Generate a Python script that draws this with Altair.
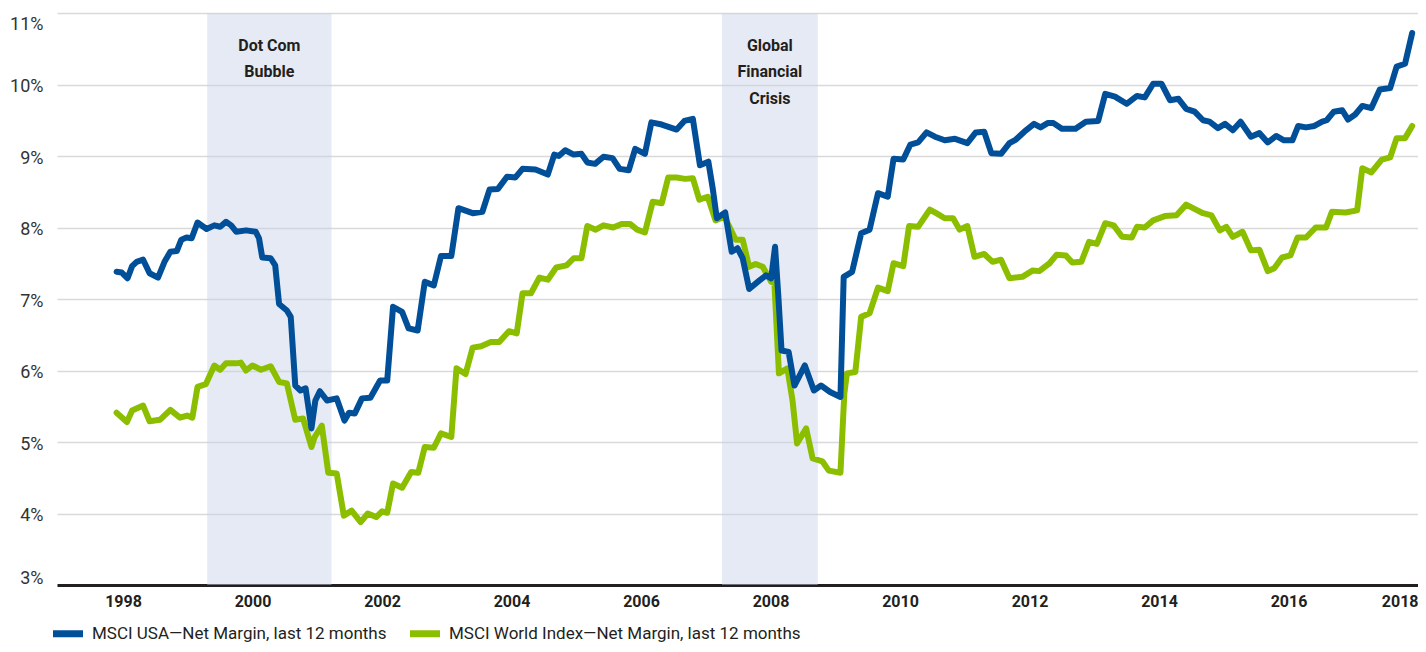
import altair as alt
import pandas as pd

# ---------------- data ----------------
usa_year = [1997.90, 1997.98, 1998.07, 1998.14, 1998.21, 1998.31, 1998.41, 1998.54, 1998.64, 1998.73,
            1998.83, 1998.90, 1998.98, 1999.06, 1999.15, 1999.29, 1999.41, 1999.50, 1999.59, 1999.67,
            1999.75, 1999.90, 2000.05, 2000.10, 2000.15, 2000.28, 2000.35, 2000.41, 2000.53, 2000.59,
            2000.66, 2000.74, 2000.82, 2000.91, 2000.97, 2001.04, 2001.15, 2001.30, 2001.42, 2001.49,
            2001.58, 2001.69, 2001.82, 2001.97, 2002.08, 2002.17, 2002.31, 2002.41, 2002.55, 2002.66,
            2002.80, 2002.91, 2003.07, 2003.18, 2003.40, 2003.55, 2003.66, 2003.79, 2003.93, 2004.06,
            2004.17, 2004.37, 2004.56, 2004.66, 2004.73, 2004.83, 2004.96, 2005.08, 2005.17, 2005.29,
            2005.42, 2005.56, 2005.67, 2005.81, 2005.91, 2006.06, 2006.16, 2006.32, 2006.55, 2006.67,
            2006.80, 2006.91, 2007.04, 2007.11, 2007.17, 2007.30, 2007.40, 2007.49, 2007.57, 2007.67,
            2007.83, 2007.93, 2008.01, 2008.07, 2008.12, 2008.17, 2008.28, 2008.37, 2008.53, 2008.67,
            2008.78, 2008.92, 2009.08, 2009.13, 2009.26, 2009.40, 2009.53, 2009.66, 2009.81, 2009.90,
            2010.05, 2010.16, 2010.28, 2010.41, 2010.54, 2010.69, 2010.85, 2011.04, 2011.17, 2011.30,
            2011.41, 2011.56, 2011.69, 2011.79, 2011.92, 2012.07, 2012.17, 2012.28, 2012.37, 2012.50,
            2012.71, 2012.87, 2013.06, 2013.17, 2013.32, 2013.50, 2013.66, 2013.78, 2013.91, 2014.04,
            2014.17, 2014.30, 2014.42, 2014.55, 2014.68, 2014.78, 2014.91, 2015.02, 2015.14, 2015.26,
            2015.42, 2015.55, 2015.68, 2015.81, 2015.93, 2016.06, 2016.15, 2016.27, 2016.40, 2016.52,
            2016.59, 2016.70, 2016.83, 2016.92, 2017.03, 2017.14, 2017.28, 2017.41, 2017.57, 2017.67,
            2017.80, 2017.91]
usa_pct = [7.38, 7.37, 7.29, 7.46, 7.52, 7.55, 7.36, 7.30, 7.52, 7.66,
           7.67, 7.83, 7.86, 7.85, 8.07, 7.98, 8.03, 8.01, 8.08, 8.03,
           7.94, 7.96, 7.94, 7.85, 7.58, 7.57, 7.47, 6.93, 6.84, 6.75,
           5.79, 5.72, 5.75, 5.19, 5.58, 5.71, 5.58, 5.61, 5.30, 5.41,
           5.40, 5.61, 5.62, 5.86, 5.86, 6.89, 6.82, 6.59, 6.56, 7.24,
           7.19, 7.60, 7.60, 8.27, 8.20, 8.22, 8.53, 8.54, 8.71, 8.70,
           8.82, 8.81, 8.74, 9.02, 9.00, 9.08, 9.02, 9.03, 8.91, 8.89,
           8.99, 8.97, 8.82, 8.80, 9.10, 9.03, 9.47, 9.44, 9.37, 9.49,
           9.52, 8.87, 8.92, 8.53, 8.13, 8.21, 7.66, 7.71, 7.57, 7.14,
           7.26, 7.33, 7.29, 7.73, 7.05, 6.28, 6.26, 5.79, 6.07, 5.72,
           5.79, 5.70, 5.63, 7.31, 7.38, 7.92, 7.97, 8.48, 8.43, 8.96,
           8.95, 9.16, 9.19, 9.33, 9.27, 9.22, 9.24, 9.18, 9.33, 9.34,
           9.04, 9.03, 9.18, 9.23, 9.34, 9.45, 9.40, 9.46, 9.46, 9.38,
           9.38, 9.48, 9.49, 9.87, 9.83, 9.73, 9.84, 9.82, 10.01, 10.01,
           9.78, 9.80, 9.66, 9.62, 9.50, 9.48, 9.39, 9.45, 9.36, 9.48,
           9.27, 9.32, 9.19, 9.28, 9.22, 9.22, 9.42, 9.40, 9.42, 9.48,
           9.50, 9.62, 9.64, 9.51, 9.58, 9.70, 9.67, 9.93, 9.95, 10.25,
           10.29, 10.72]

world_year = [1997.90, 1998.06, 1998.14, 1998.31, 1998.41, 1998.57, 1998.73, 1998.88, 1998.99, 1999.07,
              1999.15, 1999.28, 1999.41, 1999.50, 1999.59, 1999.75, 1999.82, 1999.90, 2000.00, 2000.13,
              2000.28, 2000.41, 2000.53, 2000.66, 2000.78, 2000.91, 2000.96, 2001.07, 2001.17, 2001.30,
              2001.41, 2001.53, 2001.67, 2001.78, 2001.91, 2002.00, 2002.08, 2002.17, 2002.31, 2002.45,
              2002.56, 2002.66, 2002.80, 2002.91, 2003.07, 2003.15, 2003.29, 2003.40, 2003.53, 2003.68,
              2003.81, 2003.96, 2004.08, 2004.17, 2004.30, 2004.43, 2004.56, 2004.69, 2004.85, 2004.96,
              2005.08, 2005.17, 2005.30, 2005.42, 2005.57, 2005.70, 2005.83, 2005.94, 2006.06, 2006.18,
              2006.32, 2006.42, 2006.55, 2006.68, 2006.80, 2006.90, 2007.03, 2007.15, 2007.29, 2007.46,
              2007.57, 2007.67, 2007.77, 2007.88, 2008.01, 2008.06, 2008.13, 2008.26, 2008.34, 2008.41,
              2008.55, 2008.65, 2008.80, 2008.90, 2009.08, 2009.14, 2009.18, 2009.31, 2009.40, 2009.53,
              2009.66, 2009.81, 2009.90, 2010.05, 2010.14, 2010.28, 2010.46, 2010.56, 2010.69, 2010.82,
              2010.92, 2011.04, 2011.15, 2011.30, 2011.43, 2011.56, 2011.69, 2011.89, 2012.05, 2012.15,
              2012.31, 2012.42, 2012.56, 2012.66, 2012.80, 2012.92, 2013.04, 2013.17, 2013.30, 2013.43,
              2013.58, 2013.66, 2013.78, 2013.91, 2014.09, 2014.27, 2014.42, 2014.57, 2014.68, 2014.81,
              2014.94, 2015.04, 2015.14, 2015.29, 2015.42, 2015.55, 2015.68, 2015.78, 2015.90, 2016.03,
              2016.14, 2016.27, 2016.42, 2016.58, 2016.67, 2016.88, 2017.06, 2017.14, 2017.28, 2017.44,
              2017.57, 2017.67, 2017.80, 2017.91]
world_pct = [5.41, 5.28, 5.44, 5.51, 5.29, 5.31, 5.45, 5.34, 5.37, 5.34,
             5.77, 5.81, 6.07, 6.01, 6.10, 6.10, 6.11, 6.00, 6.07, 6.01,
             6.06, 5.84, 5.82, 5.31, 5.33, 4.93, 5.07, 5.23, 4.57, 4.56,
             3.97, 4.04, 3.88, 4.00, 3.95, 4.03, 4.01, 4.42, 4.36, 4.58,
             4.57, 4.93, 4.92, 5.12, 5.07, 6.03, 5.95, 6.32, 6.34, 6.40,
             6.40, 6.55, 6.52, 7.08, 7.08, 7.30, 7.27, 7.44, 7.47, 7.57,
             7.57, 8.02, 7.97, 8.03, 8.00, 8.05, 8.05, 7.97, 7.93, 8.36,
             8.34, 8.70, 8.70, 8.68, 8.69, 8.39, 8.43, 8.10, 8.15, 7.83,
             7.83, 7.45, 7.49, 7.45, 7.24, 7.22, 5.96, 6.03, 5.58, 4.98,
             5.19, 4.77, 4.73, 4.60, 4.57, 5.68, 5.96, 5.98, 6.75, 6.80,
             7.16, 7.11, 7.50, 7.46, 8.02, 8.01, 8.25, 8.20, 8.13, 8.13,
             7.97, 8.02, 7.59, 7.63, 7.52, 7.55, 7.29, 7.31, 7.40, 7.39,
             7.50, 7.62, 7.61, 7.51, 7.52, 7.80, 7.77, 8.06, 8.03, 7.87,
             7.86, 8.01, 8.00, 8.10, 8.16, 8.17, 8.32, 8.25, 8.20, 8.17,
             7.96, 8.01, 7.87, 7.94, 7.68, 7.69, 7.39, 7.43, 7.58, 7.61,
             7.86, 7.86, 8.00, 8.00, 8.22, 8.21, 8.24, 8.83, 8.77, 8.95,
             8.98, 9.25, 9.25, 9.42]

series_names = ["MSCI USA\u2014Net Margin, last 12 months",
                "MSCI World Index\u2014Net Margin, last 12 months"]
series_colors = ["#004f98", "#8cbe00"]

band_start = [1999.30, 2007.25]
band_end = [2001.22, 2008.73]

annot_x = [2000.26, 2000.26, 2007.99, 2007.99, 2007.99]
annot_y = [10.54, 10.17, 10.54, 10.17, 9.80]
annot_text = ["Dot Com", "Bubble", "Global", "Financial", "Crisis"]

x_ticks = [1998, 2000, 2002, 2004, 2006, 2008, 2010, 2012, 2014, 2016, 2018]
y_ticks = [3, 4, 5, 6, 7, 8, 9, 10, 11]

# ---------------- tables ----------------
usa_df = pd.DataFrame({"year": usa_year, "pct": usa_pct, "series": series_names[0]})
world_df = pd.DataFrame({"year": world_year, "pct": world_pct, "series": series_names[1]})
band_df = pd.DataFrame({"start": band_start, "end": band_end})
annot_df = pd.DataFrame({"year": annot_x, "pct": annot_y, "text": annot_text})

FONT = "Roboto"
DARK = "#231f20"
W, H = 1361, 572

x_scale = alt.Scale(domain=[1996.98, 2018.0], nice=False, zero=False)
y_scale = alt.Scale(domain=[3, 11], nice=False, zero=False)

x_axis = alt.Axis(values=x_ticks, format="d", title=None, grid=False, ticks=False, tickSize=0,
                  labelFont=FONT, labelFontSize=16, labelFontWeight="bold", labelColor=DARK,
                  labelPadding=8, domainColor=DARK, domainWidth=3, labelFlush=True)
y_axis = alt.Axis(values=y_ticks, title=None, grid=True, gridColor="#d9d9d9", gridWidth=1.5,
                  ticks=False, tickSize=0, domain=False, labelFont=FONT, labelFontSize=18,
                  labelColor="#333333", labelPadding=14, labelFlush=True, labelOffset=2,
                  labelExpr="datum.value + '%'")

X = alt.X("year:Q", scale=x_scale, axis=x_axis)
Y = alt.Y("pct:Q", scale=y_scale, axis=y_axis)

legend = alt.Legend(orient="none", legendX=-7.5, legendY=602, direction="horizontal", title=None,
                    symbolType="stroke", symbolSize=900, symbolStrokeWidth=7,
                    labelFont=FONT, labelFontSize=17, labelColor=DARK, labelOffset=5.5,
                    columnPadding=8, padding=0, labelLimit=0)
COLOR = alt.Color("series:N", scale=alt.Scale(domain=series_names, range=series_colors), legend=legend)

bands = alt.Chart(band_df).mark_rect(color="#c7d0e8", opacity=0.45).encode(
    x=alt.X("start:Q", scale=x_scale, axis=x_axis),
    x2="end:Q",
    y=alt.value(0),
    y2=alt.value(H),
)

line_style = dict(strokeWidth=6, strokeCap="round", strokeJoin="round")
world_line = alt.Chart(world_df).mark_line(**line_style).encode(x=X, y=Y, color=COLOR)
usa_line = alt.Chart(usa_df).mark_line(**line_style).encode(x=X, y=Y, color=COLOR)

annots = alt.Chart(annot_df).mark_text(font=FONT, fontSize=16, fontWeight="bold", color=DARK,
                                       align="center", baseline="middle").encode(
    x=X, y=Y, text="text:N")

chart = alt.layer(bands, world_line, usa_line, annots).properties(
    width=W, height=H,
    autosize=alt.AutoSizeParams(type="none"),
    padding={"left": 49, "top": 5, "right": 0, "bottom": 58},
    background="white",
).configure_view(stroke=None)

chart.save("out.html", embed_options={"renderer": "svg", "actions": False})
